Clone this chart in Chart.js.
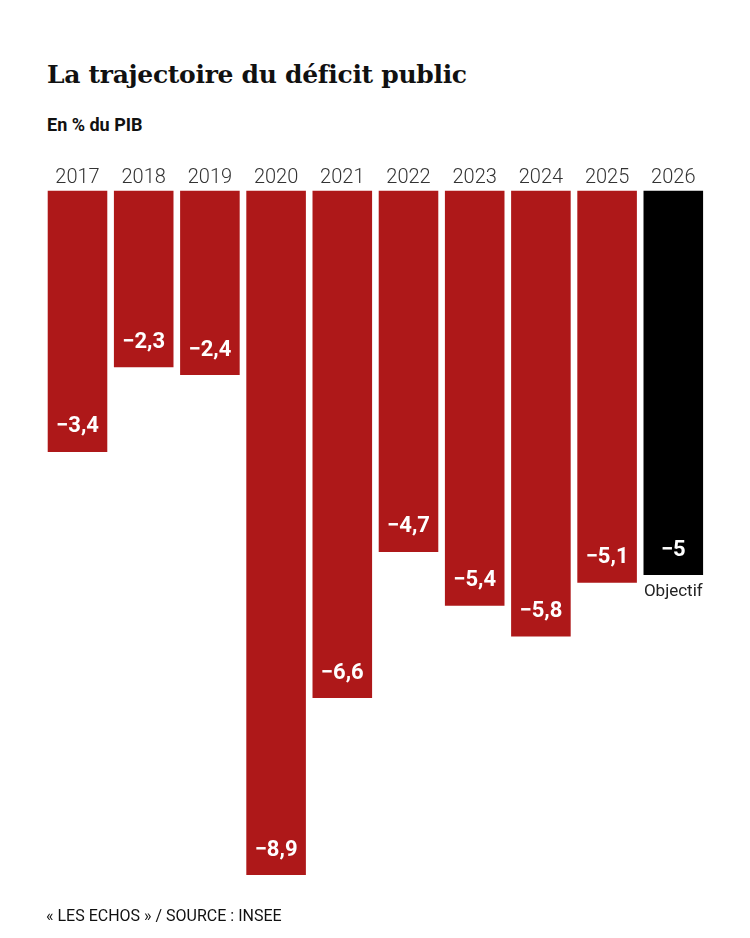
<!DOCTYPE html>
<html lang="fr">
<head>
<meta charset="utf-8">
<script src="https://cdn.jsdelivr.net/npm/chart.js"></script>
<style>
  html, body { margin: 0; padding: 0; background: #fff; }
  body { width: 750px; height: 938px; position: relative; overflow: hidden; }
  #title {
    position: absolute; left: 47px; top: 60px; margin: 0;
    font-family: "DejaVu Serif", serif; font-weight: bold; font-size: 25px;
    color: #111; letter-spacing: -0.3px;
  }
  #subtitle {
    position: absolute; left: 47px; top: 114px; margin: 0;
    font-family: "Roboto", sans-serif; font-weight: bold; font-size: 18px; color: #111;
  }
  #source {
    position: absolute; left: 46px; top: 906px; margin: 0;
    font-family: "Roboto", sans-serif; font-size: 16px; color: #111;
  }
  #wrap { position: absolute; left: 0; top: 0; width: 750px; height: 938px; }
</style>
</head>
<body>
<h1 id="title">La trajectoire du déficit public</h1>
<p id="subtitle">En % du PIB</p>
<div id="wrap"><canvas id="deficitChart"></canvas></div>
<p id="source">« LES ECHOS » / SOURCE : INSEE</p>

<script>
const years = ['2017', '2018', '2019', '2020', '2021', '2022', '2023', '2024', '2025', '2026'];
const deficit = [-3.4, -2.3, -2.4, -8.9, -6.6, -4.7, -5.4, -5.8, -5.1, -5];
const objectiveYear = '2026';
const objectiveLabel = 'Objectif';

const RED = '#ae1819';
const BLACK = '#000000';

function formatValue(v) {
  // French decimal comma, typographic minus
  return '\u2212' + String(Math.abs(v)).replace('.', ',');
}

const valueLabels = {
  id: 'valueLabels',
  afterDatasetsDraw(chart) {
    const ctx = chart.ctx;
    const meta = chart.getDatasetMeta(0);
    ctx.save();
    ctx.textAlign = 'center';
    ctx.textBaseline = 'middle';
    meta.data.forEach((bar, i) => {
      ctx.fillStyle = '#ffffff';
      ctx.font = 'bold 22px Roboto, sans-serif';
      ctx.fillText(formatValue(deficit[i]), bar.x, bar.y - 25);
      if (years[i] === objectiveYear) {
        ctx.fillStyle = '#222';
        ctx.font = '17px Roboto, sans-serif';
        ctx.fillText(objectiveLabel, bar.x, bar.y + 17);
      }
    });
    ctx.restore();
  }
};

const ctx = document.getElementById('deficitChart').getContext('2d');
const deficitChart = new Chart(ctx, {
  type: 'bar',
  data: {
    labels: years,
    datasets: [{
      data: deficit,
      backgroundColor: years.map(y => y === objectiveYear ? BLACK : RED),
      borderWidth: 0,
      barPercentage: 0.9,
      categoryPercentage: 1
    }]
  },
  options: {
    responsive: true,
    maintainAspectRatio: false,
    animation: false,
    layout: { padding: { left: 44.4, right: 43.6, top: 166.4, bottom: 55.3 } },
    plugins: { legend: { display: false }, tooltip: { enabled: false } },
    scales: {
      x: {
        position: 'top',
        grid: { display: false, drawTicks: false },
        border: { display: false },
        ticks: {
          color: '#333',
          font: { family: 'Roboto', size: 20, weight: 300 },
          padding: 0
        }
      },
      y: {
        display: false,
        min: -9,
        max: 0
      }
    }
  },
  plugins: [valueLabels]
});
</script>
</body>
</html>
